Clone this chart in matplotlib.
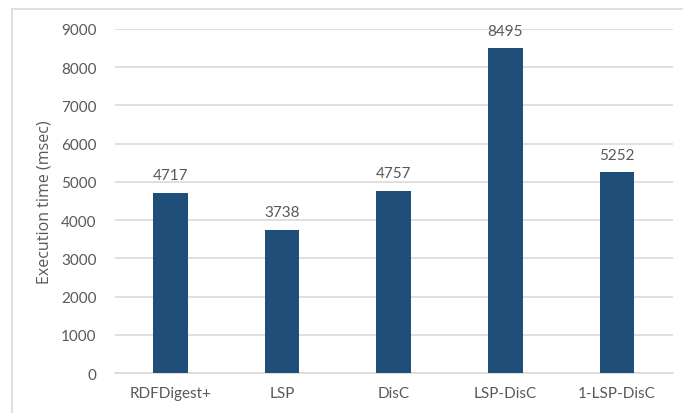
import matplotlib.pyplot as plt
from matplotlib.patches import Rectangle

# Execution time per method
methods = ["RDFDigest+", "LSP", "DisC", "LSP-DisC", "1-LSP-DisC"]
times = [4717, 3738, 4757, 8495, 5252]
yticks = [0, 1000, 2000, 3000, 4000, 5000, 6000, 7000, 8000, 9000]

plt.rcParams['font.family'] = ['Lato', 'DejaVu Sans']
text_color = '#595959'
grid_color = '#D9D9D9'

fig = plt.figure(figsize=(6.83, 4.14), dpi=100)
ax = fig.add_axes([0.168, 0.0966, 0.817, 0.831])

# light frame around the chart area
fig.patches.append(Rectangle((12 / 683, -0.1), 1.1, 1 - 10 / 414 + 0.1,
                             transform=fig.transFigure, fill=False,
                             edgecolor=grid_color, linewidth=1.2))

x = range(len(methods))
bars = ax.bar(x, times, width=0.31, color='#1F4E79', zorder=3)
for rect, v in zip(bars, times):
    ax.text(rect.get_x() + rect.get_width() / 2, v + 280, str(v),
            ha='center', va='bottom', fontsize=11, color=text_color)

ax.set_xlim(-0.5, len(methods) - 0.5)
ax.set_ylim(0, 9000)
ax.set_yticks(yticks)
ax.set_xticks(list(x))
ax.set_xticklabels(methods)
ax.tick_params(axis='both', length=0, labelsize=11, labelcolor=text_color)
ax.tick_params(axis='y', pad=13)
ax.tick_params(axis='x', pad=9)
ax.yaxis.grid(True, color=grid_color, linewidth=1.2, zorder=0)
for s in ['top', 'right', 'left']:
    ax.spines[s].set_visible(False)
ax.spines['bottom'].set_color(grid_color)
ax.spines['bottom'].set_linewidth(1.2)
ax.set_ylabel('Execution time (msec)', fontsize=11.5, color=text_color,
              labelpad=6, family=['Open Sans', 'DejaVu Sans'])

fig.savefig('out.png', dpi=100)
